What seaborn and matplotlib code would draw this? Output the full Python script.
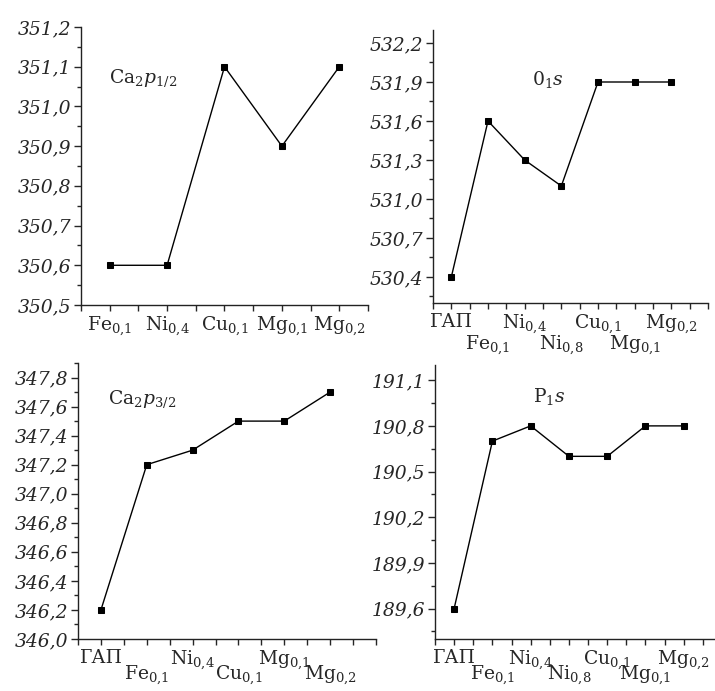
import numpy as np
import pandas as pd
import matplotlib
matplotlib.use("Agg")
import matplotlib.pyplot as plt
from matplotlib.ticker import MultipleLocator, FixedLocator
from matplotlib.font_manager import FontProperties
import seaborn as sns

sns.set_style("ticks")
plt.rcParams["font.family"] = ["DejaVu Serif"]
plt.rcParams["mathtext.fontset"] = "dejavuserif"

# Binding energies (eV) for each sample
labels_ca12 = [r"$\mathrm{Fe}_{0{,}1}$", r"$\mathrm{Ni}_{0{,}4}$", r"$\mathrm{Cu}_{0{,}1}$",
               r"$\mathrm{Mg}_{0{,}1}$", r"$\mathrm{Mg}_{0{,}2}$"]
values_ca12 = [350.6, 350.6, 351.1, 350.9, 351.1]

labels_o1s = ["ГАП", r"$\mathrm{Fe}_{0{,}1}$", r"$\mathrm{Ni}_{0{,}4}$", r"$\mathrm{Ni}_{0{,}8}$",
              r"$\mathrm{Cu}_{0{,}1}$", r"$\mathrm{Mg}_{0{,}1}$", r"$\mathrm{Mg}_{0{,}2}$"]
values_o1s = [530.4, 531.6, 531.3, 531.1, 531.9, 531.9, 531.9]

labels_ca32 = ["ГАП", r"$\mathrm{Fe}_{0{,}1}$", r"$\mathrm{Ni}_{0{,}4}$", r"$\mathrm{Cu}_{0{,}1}$",
               r"$\mathrm{Mg}_{0{,}1}$", r"$\mathrm{Mg}_{0{,}2}$"]
values_ca32 = [346.2, 347.2, 347.3, 347.5, 347.5, 347.7]

labels_p1s = ["ГАП", r"$\mathrm{Fe}_{0{,}1}$", r"$\mathrm{Ni}_{0{,}4}$", r"$\mathrm{Ni}_{0{,}8}$",
              r"$\mathrm{Cu}_{0{,}1}$", r"$\mathrm{Mg}_{0{,}1}$", r"$\mathrm{Mg}_{0{,}2}$"]
values_p1s = [189.6, 190.7, 190.8, 190.6, 190.6, 190.8, 190.8]

W, H = 715, 691
fig = plt.figure(figsize=(W / 100, H / 100), dpi=100)

ytick_font = FontProperties(family="DejaVu Serif", style="italic", size=13.5)


def make_axes(left, right, top, bottom):
    return fig.add_axes([left / W, 1 - bottom / H, (right - left) / W, (bottom - top) / H])


def panel(ax, labels, values, ylim, yticks, xmax, title, title_xy, lower_pad):
    df = pd.DataFrame({"pos": np.arange(len(values)), "energy": values})
    sns.lineplot(data=df, x="pos", y="energy", ax=ax, color="black", linewidth=1.0,
                 marker="s", markersize=4.5, markeredgecolor="black", sort=False)
    ax.set_xlim(-0.5, xmax)
    ax.set_ylim(*ylim)
    ax.set_xlabel("")
    ax.set_ylabel("")
    sns.despine(ax=ax)
    for s in ("left", "bottom"):
        ax.spines[s].set_linewidth(1.0)
        ax.spines[s].set_color("#222222")

    step = yticks[1] - yticks[0]
    ax.tick_params(axis="y", which="major", length=5, width=1, pad=2)
    ax.tick_params(axis="y", which="minor", length=3, width=1)
    ax.tick_params(axis="x", which="major", length=4, width=1, pad=3)
    ax.tick_params(axis="x", which="minor", length=4, width=1)

    ax.set_yticks(yticks)
    ax.set_yticklabels([f"{v:.1f}".replace(".", ",") for v in yticks])
    ax.yaxis.set_minor_locator(MultipleLocator(step / 2))
    ax.xaxis.set_major_locator(FixedLocator(np.arange(len(values))))
    ax.xaxis.set_minor_locator(MultipleLocator(0.5))
    ax.set_xticklabels(labels, fontsize=13.5)

    if lower_pad:
        for i, tick in enumerate(ax.xaxis.get_major_ticks()):
            if i % 2 == 1:
                tick.set_pad(3 + lower_pad)
    ax.text(title_xy[0], title_xy[1], title, fontsize=13.5, va="center", ha="left")


ax1 = make_axes(81, 368, 27, 305)
panel(ax1, labels_ca12, values_ca12, (350.5, 351.2),
      [350.5, 350.6, 350.7, 350.8, 350.9, 351.0, 351.1, 351.2], 4.5,
      r"$\mathrm{Ca}_2p_{1/2}$", (-0.02, 351.07), 0)

ax2 = make_axes(433, 708, 30, 303)
panel(ax2, labels_o1s, values_o1s, (530.2, 532.3),
      [530.4, 530.7, 531.0, 531.3, 531.6, 531.9, 532.2], 7.0,
      r"$0_1s$", (2.2, 531.92), 15)

ax3 = make_axes(78, 376, 363, 639)
panel(ax3, labels_ca32, values_ca32, (346.0, 347.9),
      [346.0, 346.2, 346.4, 346.6, 346.8, 347.0, 347.2, 347.4, 347.6, 347.8], 6.0,
      r"$\mathrm{Ca}_2p_{3/2}$", (0.15, 347.65), 11)

ax4 = make_axes(435, 722, 365, 639)
panel(ax4, labels_p1s, values_p1s, (189.4, 191.2),
      [189.6, 189.9, 190.2, 190.5, 190.8, 191.1], 7.0,
      r"$\mathrm{P}_1s$", (2.06, 190.99), 11)

# italic serif numbers on the energy axes
fig.canvas.draw()
for ax in (ax1, ax2, ax3, ax4):
    for t in ax.yaxis.get_ticklabels():
        t.set_fontproperties(ytick_font)

fig.savefig("out.png", dpi=100, facecolor="white")
